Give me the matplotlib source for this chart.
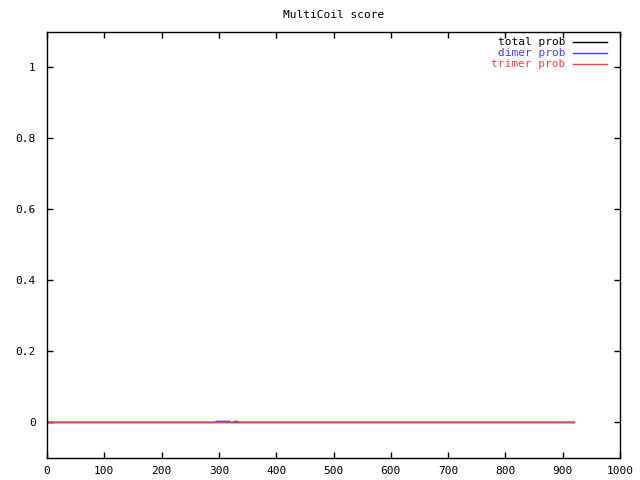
import matplotlib
matplotlib.use("Agg")
import matplotlib.pyplot as plt

# sequence positions / probabilities (sparse breakpoints)
total_x = [1, 920]
total_y = [0.0, 0.0]
dimer_x = [1, 294, 295, 319, 320, 920]
dimer_y = [0.0, 0.0, 0.003, 0.003, 0.0, 0.0]
trimer_x = [1, 325, 326, 333, 334, 920]
trimer_y = [0.0, 0.0, 0.003, 0.003, 0.0, 0.0]

xticks = [0, 100, 200, 300, 400, 500, 600, 700, 800, 900, 1000]
yticks = [0, 0.2, 0.4, 0.6, 0.8, 1.0]
ylabels = ["0", "0.2", "0.4", "0.6", "0.8", "1"]

plt.rcParams['font.family'] = ['DejaVu Sans Mono']
fig = plt.figure(figsize=(6.4, 4.8), dpi=100)
ax = fig.add_axes([47/640, 22.1/480, 573/640, 425.9/480])

RED = '#ff4040'
BLUE = '#4040ff'
ax.plot(total_x, total_y, color='black', lw=1)
ax.plot(dimer_x, dimer_y, color=BLUE, lw=1)
ax.plot(trimer_x, trimer_y, color=RED, lw=1)

ax.set_xlim(0, 1000)
ax.set_ylim(-0.1, 1.1)
ax.set_xticks(xticks)
ax.set_xticklabels([str(t) for t in xticks])
ax.set_yticks(yticks)
ax.set_yticklabels(ylabels)
ax.tick_params(direction='in', length=4, width=1, top=True, right=True,
               labelsize=8)
ax.tick_params(axis='x', pad=6)
ax.tick_params(axis='y', pad=8)
for s in ax.spines.values():
    s.set_linewidth(1)

ax.set_title("MultiCoil score", fontsize=8, pad=10)

# legend
names = ["total prob", "dimer prob", "trimer prob"]
cols = ['black', BLUE, RED]
for i, (n, c) in enumerate(zip(names, cols)):
    yp = 1 - (10 + 11 * i) / 426
    ax.text((565 - 47) / 573, yp, n, color=c, fontsize=8, ha='right', va='center',
            transform=ax.transAxes)
    ax.plot([(573 - 47) / 573, (607 - 47) / 573], [yp, yp], color=c, lw=1,
            transform=ax.transAxes, clip_on=False)

fig.savefig("out.png", dpi=100)
